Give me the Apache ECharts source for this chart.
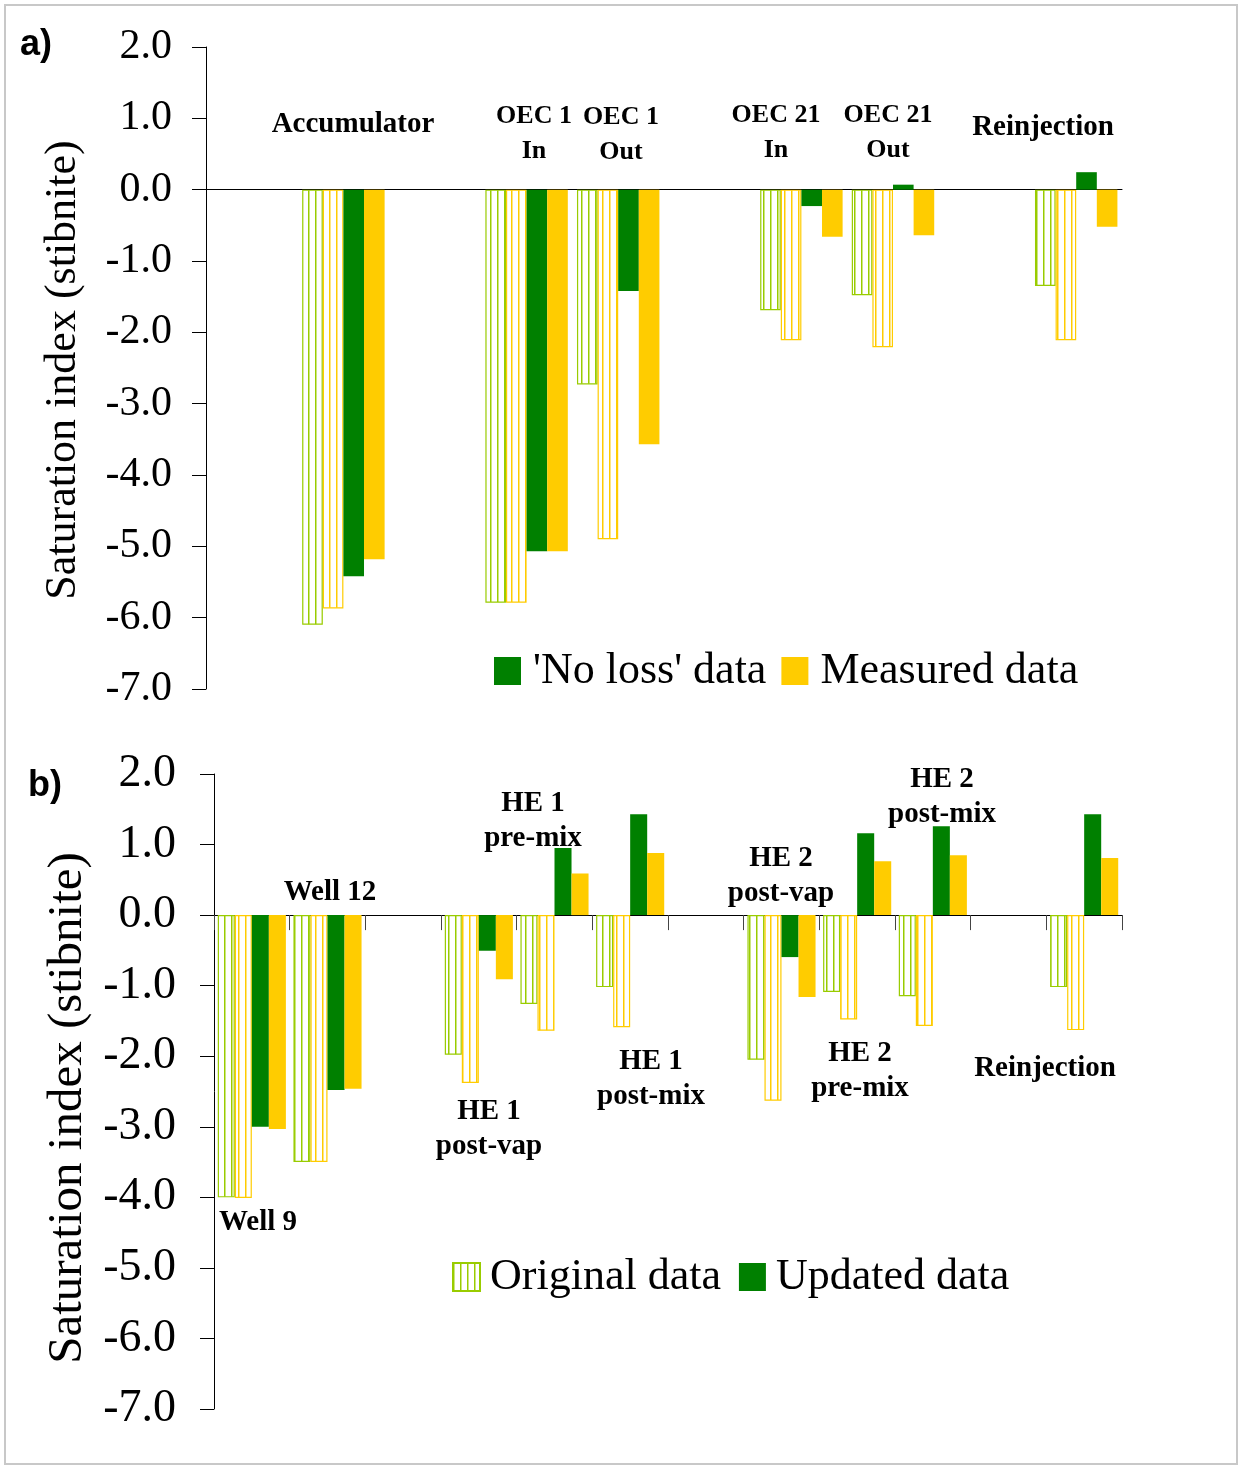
<!DOCTYPE html>
<html>
<head>
<meta charset="utf-8">
<script src="https://cdn.jsdelivr.net/npm/echarts@6/dist/echarts.min.js"></script>
<style>html,body{margin:0;padding:0;background:#fff;}#chart{width:1240px;height:1467px;}</style>
</head>
<body>
<div id="chart"></div>
<script>
// ---------- data ----------
const catsA = ['', 'Accumulator', '', 'OEC 1 In', 'OEC 1 Out', '', 'OEC 21 In', 'OEC 21 Out', '', 'Reinjection'];
const origGreenA = [null, -6.10, null, -5.79, -2.73, null, -1.69, -1.48, null, -1.35];
const origYellowA = [null, -5.87, null, -5.79, -4.90, null, -2.11, -2.21, null, -2.11];
const noLossA = [null, -5.42, null, -5.07, -1.42, null, -0.23, 0.07, null, 0.245];
const measuredA = [null, -5.18, null, -5.07, -3.57, null, -0.66, -0.64, null, -0.52];

const catsB = ['Well 9', 'Well 12', '', 'HE 1 post-vap', 'HE 1 pre-mix', 'HE 1 post-mix', '', 'HE 2 post-vap', 'HE 2 pre-mix', 'HE 2 post-mix', '', 'Reinjection'];
const origGreenB = [-4.00, -3.50, null, -1.98, -1.26, -1.02, null, -2.05, -1.09, -1.15, null, -1.02];
const origYellowB = [-4.01, -3.50, null, -2.38, -1.64, -1.59, null, -2.63, -1.48, -1.57, null, -1.63];
const updGreenB = [-3.00, -2.48, null, -0.505, 0.95, 1.43, null, -0.595, 1.16, 1.26, null, 1.43];
const updYellowB = [-3.03, -2.46, null, -0.91, 0.59, 0.88, null, -1.16, 0.765, 0.85, null, 0.81];

const yTicks = {min: -7, max: 2, interval: 1};
const yTitle = 'Saturation index (stibnite)';

const labelsA = [
  {t: 'Accumulator', x: 353, y: 125, s: 29},
  {t: 'OEC 1\nIn', x: 534, y: 134, s: 26},
  {t: 'OEC 1\nOut', x: 621, y: 135, s: 26},
  {t: 'OEC 21\nIn', x: 776, y: 133, s: 26},
  {t: 'OEC 21\nOut', x: 888, y: 133, s: 26},
  {t: 'Reinjection', x: 1043, y: 128, s: 29}
];
const labelsB = [
  {t: 'HE 1\npre-mix', x: 533, y: 821, s: 29},
  {t: 'Well 12', x: 330, y: 893, s: 29},
  {t: 'HE 2\npost-vap', x: 781, y: 876, s: 29},
  {t: 'HE 2\npost-mix', x: 942, y: 797, s: 29},
  {t: 'HE 1\npost-mix', x: 651, y: 1079, s: 29},
  {t: 'HE 2\npre-mix', x: 860, y: 1071, s: 29},
  {t: 'Reinjection', x: 1045, y: 1069, s: 29},
  {t: 'HE 1\npost-vap', x: 489, y: 1129, s: 29},
  {t: 'Well 9', x: 258, y: 1223, s: 29}
];

// ---------- styles ----------
const GREEN = '#008000', YELLOW = '#FFCC00', LIME = '#99CC00';
const SERIF = 'Liberation Serif';

function stripes(color) {
  const c = document.createElement('canvas');
  c.width = 7; c.height = 4;
  const g = c.getContext('2d');
  g.fillStyle = '#ffffff'; g.fillRect(0, 0, 7, 4);
  g.fillStyle = color; g.fillRect(0, 0, 1.5, 4);
  return {image: c, repeat: 'repeat'};
}

function hatched(name, data, color, xi, yi) {
  return {
    name, type: 'bar', data, xAxisIndex: xi, yAxisIndex: yi,
    barGap: '0%', barCategoryGap: '10%',
    itemStyle: {color: stripes(color), borderColor: color, borderWidth: 1.2},
    emphasis: {disabled: true}
  };
}
function solid(name, data, color, xi, yi) {
  return {
    name, type: 'bar', data, xAxisIndex: xi, yAxisIndex: yi,
    barGap: '0%', barCategoryGap: '10%',
    itemStyle: {color},
    emphasis: {disabled: true}
  };
}

function yAxis(gridIndex, fontSize, margin) {
  return {
    type: 'value', gridIndex, min: yTicks.min, max: yTicks.max, interval: yTicks.interval,
    axisLine: {show: true, lineStyle: {color: '#000', width: 1}},
    axisTick: {show: true, length: 14, lineStyle: {color: '#000'}},
    splitLine: {show: false},
    axisLabel: {fontFamily: SERIF, fontSize, color: '#000', margin, formatter: v => v.toFixed(1)}
  };
}

const graphics = [
  {type: 'rect', shape: {x: 5, y: 5, width: 1232, height: 1459}, style: {fill: 'none', stroke: '#c8c8c8', lineWidth: 2}, silent: true},
  {type: 'text', x: 20, y: 45, style: {text: 'a)', fontFamily: 'Liberation Sans', fontWeight: 'bold', fontSize: 36, fill: '#000', textVerticalAlign: 'middle'}},
  {type: 'text', x: 28, y: 786, style: {text: 'b)', fontFamily: 'Liberation Sans', fontWeight: 'bold', fontSize: 36, fill: '#000', textVerticalAlign: 'middle'}},
  {type: 'text', x: 63, y: 370, rotation: Math.PI / 2, style: {text: yTitle, fontFamily: SERIF, fontSize: 44, fill: '#000', textAlign: 'center', textVerticalAlign: 'middle'}},
  {type: 'text', x: 68, y: 1108, rotation: Math.PI / 2, style: {text: yTitle, fontFamily: SERIF, fontSize: 49, fill: '#000', textAlign: 'center', textVerticalAlign: 'middle'}}
];
labelsA.concat(labelsB).forEach(l => graphics.push({
  type: 'text', x: l.x, y: l.y, z: 10,
  style: {text: l.t, fontFamily: SERIF, fontWeight: 'bold', fontSize: l.s, lineHeight: 35, fill: '#000', textAlign: 'center', textVerticalAlign: 'middle'}
}));

const option = {
  animation: false,
  backgroundColor: '#fff',
  grid: [
    {left: 206, right: 118, top: 47, height: 642},
    {left: 214, right: 118, top: 774, height: 635}
  ],
  xAxis: [
    {type: 'category', gridIndex: 0, data: catsA, axisLine: {onZero: true, lineStyle: {color: '#000'}}, axisTick: {show: false}, axisLabel: {show: false}},
    {type: 'category', gridIndex: 1, data: catsB, axisLine: {onZero: true, lineStyle: {color: '#000'}}, axisTick: {show: true, length: 15, interval: 0, lineStyle: {color: '#444'}}, axisLabel: {show: false}}
  ],
  yAxis: [yAxis(0, 42, 34), yAxis(1, 46, 38)],
  legend: [
    {data: ["'No loss' data", 'Measured data'], left: 494, top: 649, icon: 'rect', itemWidth: 27, itemHeight: 28, itemGap: 15, padding: 0,
     selectedMode: false, textStyle: {fontFamily: SERIF, fontSize: 44, color: '#000', padding: [0, 0, 0, 7]}},
    {data: ['Original data', 'Updated data'], left: 452, top: 1255, icon: 'rect', itemWidth: 27, itemHeight: 28, itemGap: 18, padding: 0,
     selectedMode: false, textStyle: {fontFamily: SERIF, fontSize: 44, color: '#000', padding: [0, 0, 0, 5]}}
  ],
  series: [
    hatched('orig-green-a', origGreenA, LIME, 0, 0),
    hatched('orig-yellow-a', origYellowA, YELLOW, 0, 0),
    solid("'No loss' data", noLossA, GREEN, 0, 0),
    solid('Measured data', measuredA, YELLOW, 0, 0),
    hatched('Original data', origGreenB, LIME, 1, 1),
    hatched('orig-yellow-b', origYellowB, YELLOW, 1, 1),
    solid('Updated data', updGreenB, GREEN, 1, 1),
    solid('measured-b', updYellowB, YELLOW, 1, 1)
  ],
  graphic: graphics
};

const chart = echarts.init(document.getElementById('chart'), null, {renderer: 'canvas'});
chart.setOption(option);
</script>
</body>
</html>
